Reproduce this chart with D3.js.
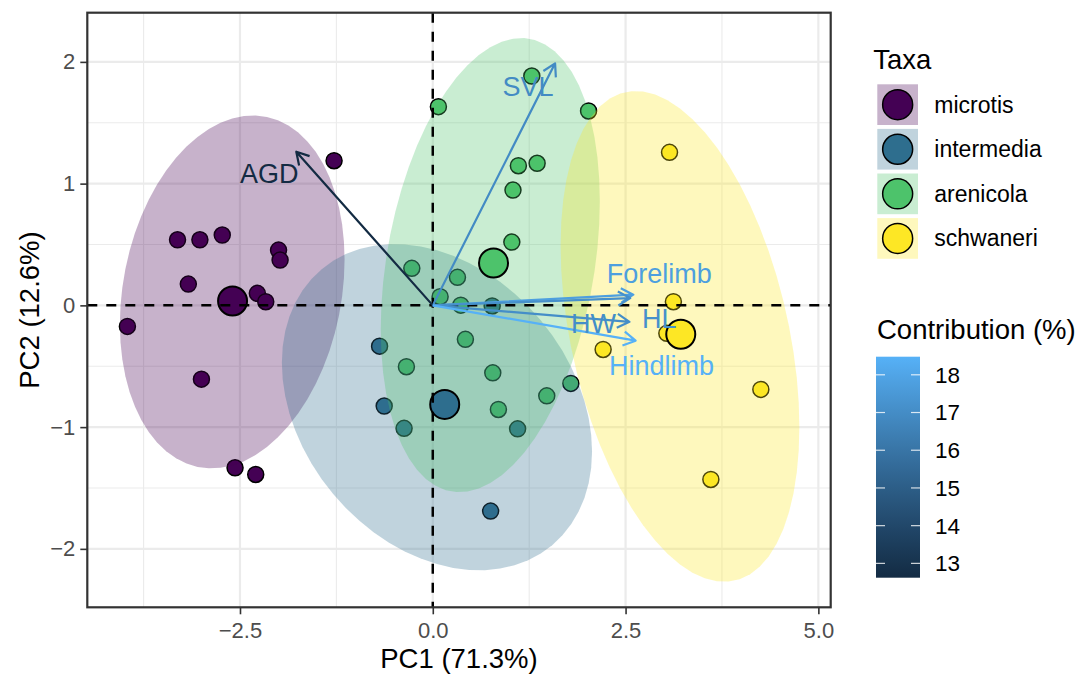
<!DOCTYPE html>
<html lang="en">
  <head>
    <meta charset="utf-8">
    <title>PCA biplot - Taxa</title>
    <style>
      body { margin: 0; background: #fff; }
      svg text { font-family: "Liberation Sans", Arial, sans-serif; }
      .axis path { display: none; }
      .axis line { stroke: #333333; stroke-width: 1.6px; }
      .axis text { fill: #4d4d4d; font-size: 22px; }
    </style>
  </head>
  <body>
    <div id="svg-area"></div>
    <script src="https://cdn.jsdelivr.net/npm/d3@7"></script>
    <script>
      const svg_width = 1081;
      const svg_height = 674;

      // individuals
      const taxa = ['microtis', 'intermedia', 'arenicola', 'schwaneri'];
      const microtisPC1 = [-1.28, -3.31, -3.02, -2.73, -2.00, -1.98, -3.17, -2.275, -2.166, -3.96, -3.00, -2.564, -2.296];
      const microtisPC2 = [1.188, 0.539, 0.539, 0.578, 0.454, 0.372, 0.175, 0.099, 0.030, -0.173, -0.606, -1.334, -1.389];
      const intermediaPC1 = [-0.69, -0.63, -0.372, 1.10, 0.75, 0.77];
      const intermediaPC2 = [-0.335, -0.827, -1.01, -1.014, -1.69, -0.005];
      const arenicolaPC1 = [0.073, 1.284, 2.02, 1.11, 1.353, 1.04, 1.025, 0.32, 0.095, 0.363, -0.272, 0.423, -0.342, 0.778, 0.851, 1.478, 1.79];
      const arenicolaPC2 = [1.632, 1.884, 1.597, 1.147, 1.167, 0.947, 0.520, 0.23, 0.071, 0.002, 0.304, -0.279, -0.504, -0.554, -0.855, -0.743, -0.641];
      const schwaneriPC1 = [3.07, 3.12, 2.209, 3.035, 4.254, 3.606];
      const schwaneriPC2 = [1.257, 0.030, -0.362, -0.230, -0.69, -1.43];

      // variables
      const variables = ['SVL', 'AGD', 'Forelimb', 'HL', 'HW', 'Hindlimb'];
      const varPC1 = [1.586, -1.77, 2.60, 2.56, 2.55, 2.63];
      const varPC2 = [1.988, 1.262, 0.088, 0.06, -0.135, -0.29];
      const varContrib = [16.95, 12.62, 17.75, 17.15, 17.05, 18.48];

      // tick labels
      const xTicks = [-2.5, 0, 2.5, 5];
      const yTicks = [-2, -1, 0, 1, 2];
      const contribTicks = [13, 14, 15, 16, 17, 18];

      const ellipseLevel = 0.9;
      const taxaColors = ['#440154', '#2E6E8E', '#4DC36B', '#FDE725'];
      // label nudges (px) for the variable names, like ggrepel placed them
      const labelNudge = {
        SVL: [-27, 23], AGD: [-27, 22], Forelimb: [26, -21],
        HL: [29, 20], HW: [-36, 1], Hindlimb: [26, 25]
      };

      const groups = [
        { name: taxa[0], pc1: microtisPC1, pc2: microtisPC2 },
        { name: taxa[1], pc1: intermediaPC1, pc2: intermediaPC2 },
        { name: taxa[2], pc1: arenicolaPC1, pc2: arenicolaPC2 },
        { name: taxa[3], pc1: schwaneriPC1, pc2: schwaneriPC2 }
      ].map((g, i) => ({
        ...g, color: taxaColors[i],
        pts: g.pc1.map((v, j) => [v, g.pc2[j]])
      }));

      const panel = { left: 87.3, top: 12.7, right: 830.7, bottom: 607.3 };

      const svg = d3.select('#svg-area')
        .append('svg')
        .attr('width', svg_width)
        .attr('height', svg_height);

      const x = d3.scaleLinear().domain([-4.48, 5.16]).range([panel.left, panel.right]);
      const y = d3.scaleLinear().domain([-2.48, 2.404]).range([panel.bottom, panel.top]);
      const colour = d3.scaleLinear()
        .domain(d3.extent(varContrib))
        .range(['#132B43', '#56B1F7'])
        .interpolate(d3.interpolateLab);

      svg.append('defs').append('clipPath').attr('id', 'clip')
        .append('rect')
        .attr('x', panel.left).attr('y', panel.top)
        .attr('width', panel.right - panel.left).attr('height', panel.bottom - panel.top);

      // grid
      const grid = svg.append('g');
      const xMinor = d3.range(-3.75, 5.2, 2.5);
      const yMinor = d3.range(-1.5, 2.4, 1);
      grid.selectAll('.vmin').data(xMinor).enter().append('line')
        .attr('x1', d => x(d)).attr('x2', d => x(d))
        .attr('y1', panel.top).attr('y2', panel.bottom)
        .attr('stroke', '#ebebeb').attr('stroke-width', 1.1);
      grid.selectAll('.hmin').data(yMinor).enter().append('line')
        .attr('y1', d => y(d)).attr('y2', d => y(d))
        .attr('x1', panel.left).attr('x2', panel.right)
        .attr('stroke', '#ebebeb').attr('stroke-width', 1.1);
      grid.selectAll('.vmaj').data(xTicks).enter().append('line')
        .attr('x1', d => x(d)).attr('x2', d => x(d))
        .attr('y1', panel.top).attr('y2', panel.bottom)
        .attr('stroke', '#ebebeb').attr('stroke-width', 2.2);
      grid.selectAll('.hmaj').data(yTicks).enter().append('line')
        .attr('y1', d => y(d)).attr('y2', d => y(d))
        .attr('x1', panel.left).attr('x2', panel.right)
        .attr('stroke', '#ebebeb').attr('stroke-width', 2.2);

      const plot = svg.append('g').attr('clip-path', 'url(#clip)');

      // points
      groups.forEach(g => {
        plot.append('g').selectAll('circle').data(g.pts).enter()
          .append('circle')
          .attr('cx', d => x(d[0])).attr('cy', d => y(d[1]))
          .attr('r', 8)
          .attr('fill', g.color)
          .attr('stroke', '#000').attr('stroke-width', 1.5);
      });

      // robust (t) covariance, as MASS::cov.trob
      function covTrob(pts, nu = 5, maxit = 25, tol = 0.01) {
        const n = pts.length;
        let loc = [d3.mean(pts, d => d[0]), d3.mean(pts, d => d[1])];
        let w = pts.map(() => 1);
        let X;
        for (let it = 0; it < maxit; it++) {
          const w0 = w.slice();
          X = pts.map(d => [d[0] - loc[0], d[1] - loc[1]]);
          const sw = d3.sum(w);
          let a = 0, b = 0, c = 0;
          X.forEach((v, i) => { a += w[i] / sw * v[0] * v[0]; b += w[i] / sw * v[0] * v[1]; c += w[i] / sw * v[1] * v[1]; });
          const det = a * c - b * b;
          const Q = X.map(v => (c * v[0] * v[0] - 2 * b * v[0] * v[1] + a * v[1] * v[1]) / det);
          w = Q.map(q => (nu + 2) / (nu + q));
          const sw2 = d3.sum(w);
          loc = [d3.sum(pts, (d, i) => w[i] * d[0]) / sw2, d3.sum(pts, (d, i) => w[i] * d[1]) / sw2];
          if (w.every((v, i) => Math.abs(v - w0[i]) < tol)) break;
        }
        let a = 0, b = 0, c = 0;
        X.forEach((v, i) => { a += w[i] * v[0] * v[0]; b += w[i] * v[0] * v[1]; c += w[i] * v[1] * v[1]; });
        return { center: loc, cov: [a / n, b / n, c / n] };
      }

      function ellipse(pts, level, segments = 60) {
        const { center, cov } = covTrob(pts);
        const d = pts.length - 1;
        const qf = (d / 2) * (Math.pow(1 - level, -2 / d) - 1);
        const radius = Math.sqrt(2 * qf);
        const r11 = Math.sqrt(cov[0]);
        const r12 = cov[1] / r11;
        const r22 = Math.sqrt(cov[2] - r12 * r12);
        return d3.range(segments + 1).map(k => {
          const t = k * 2 * Math.PI / segments;
          return [center[0] + radius * Math.cos(t) * r11,
                  center[1] + radius * (Math.cos(t) * r12 + Math.sin(t) * r22)];
        });
      }

      const line = d3.line().x(d => x(d[0])).y(d => y(d[1]));
      groups.forEach(g => {
        plot.append('path')
          .attr('d', line(ellipse(g.pts, ellipseLevel)) + 'Z')
          .attr('fill', g.color)
          .attr('fill-opacity', 0.3)
          .attr('stroke', 'none');
      });

      // group means
      plot.append('g').selectAll('circle').data(groups).enter()
        .append('circle')
        .attr('cx', g => x(d3.mean(g.pc1))).attr('cy', g => y(d3.mean(g.pc2)))
        .attr('r', 14.5)
        .attr('fill', g => g.color)
        .attr('stroke', '#000').attr('stroke-width', 2);

      // dashed axes
      plot.append('line')
        .attr('x1', panel.left).attr('x2', panel.right)
        .attr('y1', y(0)).attr('y2', y(0))
        .attr('stroke', '#000').attr('stroke-width', 2.5).attr('stroke-dasharray', '10,9');
      plot.append('line')
        .attr('y1', panel.top).attr('y2', panel.bottom)
        .attr('x1', x(0)).attr('x2', x(0))
        .attr('stroke', '#000').attr('stroke-width', 2.5).attr('stroke-dasharray', '10,9');

      // variable arrows
      const vars = variables.map((v, i) => ({ name: v, pc1: varPC1[i], pc2: varPC2[i], contrib: varContrib[i] }));
      const arrows = plot.append('g');
      vars.forEach(v => {
        const x0 = x(0), y0 = y(0), x1 = x(v.pc1), y1 = y(v.pc2);
        const ang = Math.atan2(y1 - y0, x1 - x0);
        const len = 14, spread = Math.PI / 6;
        const head = `M${x1 - len * Math.cos(ang - spread)},${y1 - len * Math.sin(ang - spread)}L${x1},${y1}L${x1 - len * Math.cos(ang + spread)},${y1 - len * Math.sin(ang + spread)}`;
        arrows.append('path')
          .attr('d', `M${x0},${y0}L${x1},${y1}` + head)
          .attr('fill', 'none')
          .attr('stroke', colour(v.contrib))
          .attr('stroke-width', 2.2)
          .attr('stroke-linejoin', 'round');
      });
      plot.append('g').selectAll('text').data(vars).enter()
        .append('text')
        .attr('x', v => x(v.pc1) + labelNudge[v.name][0])
        .attr('y', v => y(v.pc2) + labelNudge[v.name][1])
        .attr('dy', '0.36em')
        .attr('text-anchor', 'middle')
        .attr('font-size', 27)
        .attr('fill', v => colour(v.contrib))
        .text(v => v.name);

      // panel border
      svg.append('rect')
        .attr('x', panel.left).attr('y', panel.top)
        .attr('width', panel.right - panel.left).attr('height', panel.bottom - panel.top)
        .attr('fill', 'none').attr('stroke', '#333333').attr('stroke-width', 2.2);

      // axes
      svg.append('g')
        .attr('class', 'axis')
        .attr('transform', `translate(0,${panel.bottom})`)
        .call(d3.axisBottom(x).tickValues(xTicks).tickFormat(d3.format('.1f')).tickSize(7).tickPadding(8));
      svg.append('g')
        .attr('class', 'axis')
        .attr('transform', `translate(${panel.left},0)`)
        .call(d3.axisLeft(y).tickValues(yTicks).tickFormat(d3.format('d')).tickSize(7).tickPadding(5));

      svg.append('text')
        .attr('x', (panel.left + panel.right) / 2).attr('y', 668)
        .attr('text-anchor', 'middle').attr('font-size', 27.5)
        .text('PC1 (71.3%)');
      svg.append('text')
        .attr('transform', `translate(39,${(panel.top + panel.bottom) / 2}) rotate(-90)`)
        .attr('text-anchor', 'middle').attr('font-size', 27.5)
        .text('PC2 (12.6%)');

      // legend: Taxa
      const leg = svg.append('g');
      leg.append('text').attr('x', 873.3).attr('y', 69.3).attr('font-size', 27.5).text('Taxa');
      const keys = leg.selectAll('g.key').data(groups).enter()
        .append('g').attr('class', 'key')
        .attr('transform', (g, i) => `translate(877.3,${84.3 + i * 44.6})`);
      keys.append('rect').attr('width', 40.7).attr('height', 40.7)
        .attr('fill', g => g.color).attr('fill-opacity', 0.3);
      keys.append('circle').attr('cx', 20.35).attr('cy', 20.35).attr('r', 15)
        .attr('fill', g => g.color).attr('stroke', '#000').attr('stroke-width', 1.5);
      keys.append('text').attr('x', 57).attr('y', 20.35).attr('dy', '0.35em')
        .attr('font-size', 23).text(g => g.name);

      // legend: contribution colourbar
      const cb = { x: 876, y0: 356.7, y1: 577.7, w: 44 };
      leg.append('text').attr('x', 877).attr('y', 339.3).attr('font-size', 27.5).text('Contribution (%)');
      const cbScale = d3.scaleLinear().domain(d3.extent(varContrib)).range([cb.y1, cb.y0]);
      const grad = svg.select('defs').append('linearGradient')
        .attr('id', 'cbgrad').attr('x1', 0).attr('x2', 0).attr('y1', 1).attr('y2', 0);
      d3.range(0, 1.0001, 0.1).forEach(t => {
        grad.append('stop').attr('offset', t)
          .attr('stop-color', colour(cbScale.domain()[0] + t * (cbScale.domain()[1] - cbScale.domain()[0])));
      });
      leg.append('rect').attr('x', cb.x).attr('y', cb.y0).attr('width', cb.w).attr('height', cb.y1 - cb.y0)
        .attr('fill', 'url(#cbgrad)');
      const cbt = leg.append('g').selectAll('g').data(contribTicks).enter().append('g');
      cbt.append('line').attr('x1', cb.x).attr('x2', cb.x + 9)
        .attr('y1', d => cbScale(d)).attr('y2', d => cbScale(d))
        .attr('stroke', '#fff').attr('stroke-width', 1.2).attr('stroke-opacity', 0.8);
      cbt.append('line').attr('x1', cb.x + cb.w - 9).attr('x2', cb.x + cb.w)
        .attr('y1', d => cbScale(d)).attr('y2', d => cbScale(d))
        .attr('stroke', '#fff').attr('stroke-width', 1.2).attr('stroke-opacity', 0.8);
      cbt.append('text').attr('x', 935).attr('y', d => cbScale(d)).attr('dy', '0.35em')
        .attr('font-size', 22.5).text(d => d);
    </script>
  </body>
</html>
